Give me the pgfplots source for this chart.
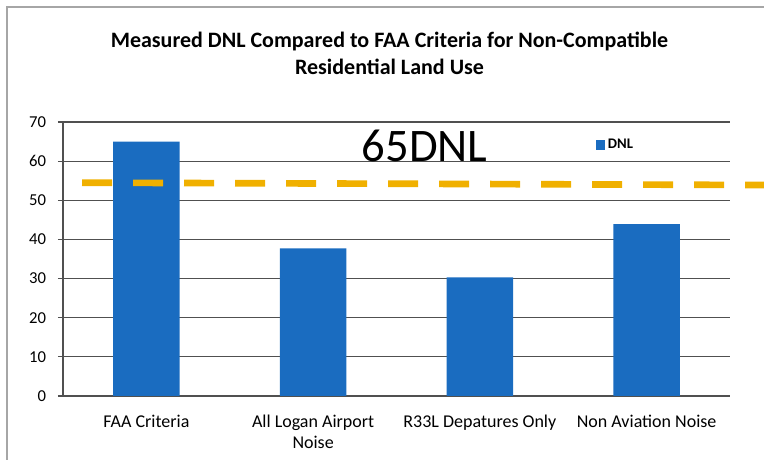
\documentclass[border=0pt]{standalone}
\usepackage{pgfplots}
\pgfplotsset{compat=1.18}
\usepackage{fontspec}
\setmainfont{Carlito}
\definecolor{barblue}{HTML}{1A6CC0}
\definecolor{dashorange}{HTML}{F0B000}
\definecolor{gridgray}{HTML}{505050}
\begin{document}
\begin{tikzpicture}
\useasboundingbox (-47.25pt,-48pt) rectangle (525.75pt,297pt);
\draw[gray!70, line width=0.8pt] (-42pt,-48pt) -- (-42pt,291.75pt) -- (525.75pt,291.75pt);
\begin{axis}[
  scale only axis,
  width=500.25pt, height=205.5pt,
  at={(0,0)}, anchor=south west,
  xmin=-0.5, xmax=3.5,
  ymin=0, ymax=70,
  ytick={0,10,...,70},
  xtick={0,1,2,3},
  xticklabels={FAA Criteria, {All Logan Airport\\Noise}, R33L Depatures Only, Non Aviation Noise},
  xticklabel style={align=center, font=\fontsize{13.5}{15.5}\selectfont, yshift=-7pt},
  yticklabel style={font=\fontsize{12.5}{14}\selectfont, xshift=-5.5pt},
  /pgf/number format/assume math mode=true,
  axis x line*=bottom,
  axis y line*=left,
  axis line style={gridgray, line width=0.8pt, -},
  tick align=outside,
  major tick length=3.75pt,
  xtick style={draw=none},
  extra x ticks={-0.5,0.5,1.5,2.5,3.5},
  extra x tick labels={},
  extra x tick style={grid=none, tick style={draw=gridgray, line width=0.8pt}},
  ytick style={draw=gridgray, line width=0.8pt},
  ymajorgrids,
  grid style={gridgray, line width=0.8pt},
  clip=false,
  legend style={draw=none, fill=none, at={(rel axis cs:0.799,0.916)}, anchor=west,
    font=\fontsize{11}{13}\bfseries, inner xsep=0pt, inner ysep=0pt},
  legend image code/.code={\fill[barblue] (0pt,-3.4pt) rectangle (6.8pt,3.4pt);},
]
\addplot[ybar, bar width=50pt, fill=barblue, draw=none, bar shift=0pt] coordinates {(0,65) (1,37.7) (2,30.3) (3,43.9)};
\addlegendentry{DNL}
\addplot[forget plot, dashorange, line width=5pt, dash pattern=on 22.5pt off 15.75pt] coordinates {(-0.386,54.5) (3.704,53.9)};
\node[font=\fontsize{35}{40}\selectfont, anchor=base west, inner sep=0pt] at (axis cs:1.29,59.9) {65DNL};
\node[font=\fontsize{16.5}{20.5}\selectfont\bfseries, align=center] at (axis description cs:0.4895,1.25) {Measured DNL Compared to FAA Criteria for Non-Compatible\\Residential Land Use};
\end{axis}
\end{tikzpicture}
\end{document}
